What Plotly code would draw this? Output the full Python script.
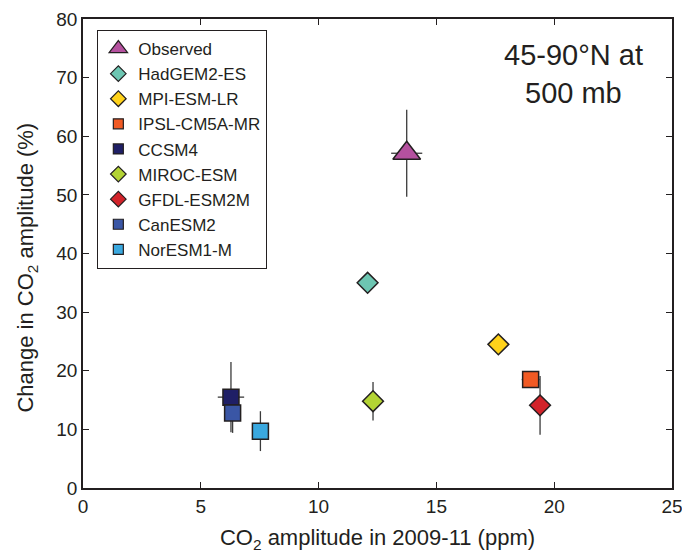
import plotly.graph_objects as go

models = ["Observed", "HadGEM2-ES", "MPI-ESM-LR", "IPSL-CM5A-MR", "CCSM4",
          "MIROC-ESM", "GFDL-ESM2M", "CanESM2", "NorESM1-M"]
co2_amp = [13.74, 12.08, 17.63, 19.0, 6.28, 12.31, 19.4, 6.35, 7.53]
change_pct = [57.1, 35.0, 24.5, 18.5, 15.5, 14.8, 14.1, 12.8, 9.7]
x_err = [0.66, 0, 0, 0.38, 0.56, 0, 0, 0, 0]
y_err = [7.4, 0, 0, 0, 6.0, 3.3, 5.0, 3.4, 3.4]
symbols = ["triangle-up", "diamond", "diamond", "square", "square",
           "diamond", "diamond", "square", "square"]
colors = ["#b5519f", "#6dc6b2", "#ffd21a", "#f15a24", "#1f1f66",
          "#b3d334", "#d2232a", "#3a56a5", "#3aa8df"]
plot_sizes = {"triangle-up": 24, "diamond": 16, "square": 16}
legend_sizes = {"triangle-up": 16, "diamond": 12, "square": 10}

FONT = "Liberation Sans, Arial, Helvetica, sans-serif"
INK = "#231f20"

fig = go.Figure()

# error bars (behind markers)
fig.add_trace(go.Scatter(
    x=co2_amp, y=change_pct, mode="markers",
    marker=dict(size=1, opacity=0),
    error_x=dict(type="data", array=x_err, color="#3a3a3a", thickness=1.3, width=0),
    error_y=dict(type="data", array=y_err, color="#3a3a3a", thickness=1.3, width=0),
    showlegend=False, hoverinfo="skip"))

for name, xv, yv, sym, col in zip(models, co2_amp, change_pct, symbols, colors):
    fig.add_trace(go.Scatter(
        x=[xv], y=[yv], mode="markers", name=name, showlegend=False,
        marker=dict(symbol=sym, size=plot_sizes[sym], color=col,
                    line=dict(color=INK, width=1.5))))

# legend entries
for name, sym, col in zip(models, symbols, colors):
    fig.add_trace(go.Scatter(
        x=[None], y=[None], mode="markers", name=name, showlegend=True,
        marker=dict(symbol=sym, size=legend_sizes[sym], color=col,
                    line=dict(color=INK, width=1.2))))

axis_common = dict(
    showline=True, linecolor=INK, linewidth=1.5, mirror="ticks",
    ticks="inside", ticklen=6, tickwidth=1.2, tickcolor=INK,
    showgrid=False, zeroline=False, automargin=False,
    ticklabeloverflow="allow",
    tickfont=dict(family=FONT, size=19, color=INK),
)

fig.update_layout(
    width=682, height=553,
    margin=dict(l=83, r=10, t=19, b=65),
    plot_bgcolor="white", paper_bgcolor="white",
    font=dict(family=FONT, color=INK),
    xaxis=dict(range=[0, 25], dtick=5, tick0=0,
               title=dict(text="CO<sub>2</sub> amplitude in 2009-11 (ppm)",
                          font=dict(family=FONT, size=22, color=INK), standoff=16),
               **axis_common),
    yaxis=dict(range=[0, 80], dtick=10, tick0=0, **axis_common),
    legend=dict(x=0.024, y=0.977, xanchor="left", yanchor="top",
                bordercolor=INK, borderwidth=1.2, bgcolor="white",
                font=dict(family=FONT, size=17, color=INK),
                tracegroupgap=0),
    annotations=[
        dict(text="Change in CO<sub>2</sub> amplitude (%)", xref="paper", yref="paper",
             x=-0.095, y=0.47, xanchor="center", yanchor="middle", textangle=-90,
             showarrow=False, font=dict(family=FONT, size=22, color=INK)),
        dict(text="45-90°N at", xref="paper", yref="paper", x=0.833, y=0.923,
             xanchor="center", yanchor="middle", showarrow=False,
             font=dict(family=FONT, size=29, color=INK)),
        dict(text="500 mb", xref="paper", yref="paper", x=0.833, y=0.842,
             xanchor="center", yanchor="middle", showarrow=False,
             font=dict(family=FONT, size=29, color=INK)),
    ],
)

fig.write_html("out.html")
